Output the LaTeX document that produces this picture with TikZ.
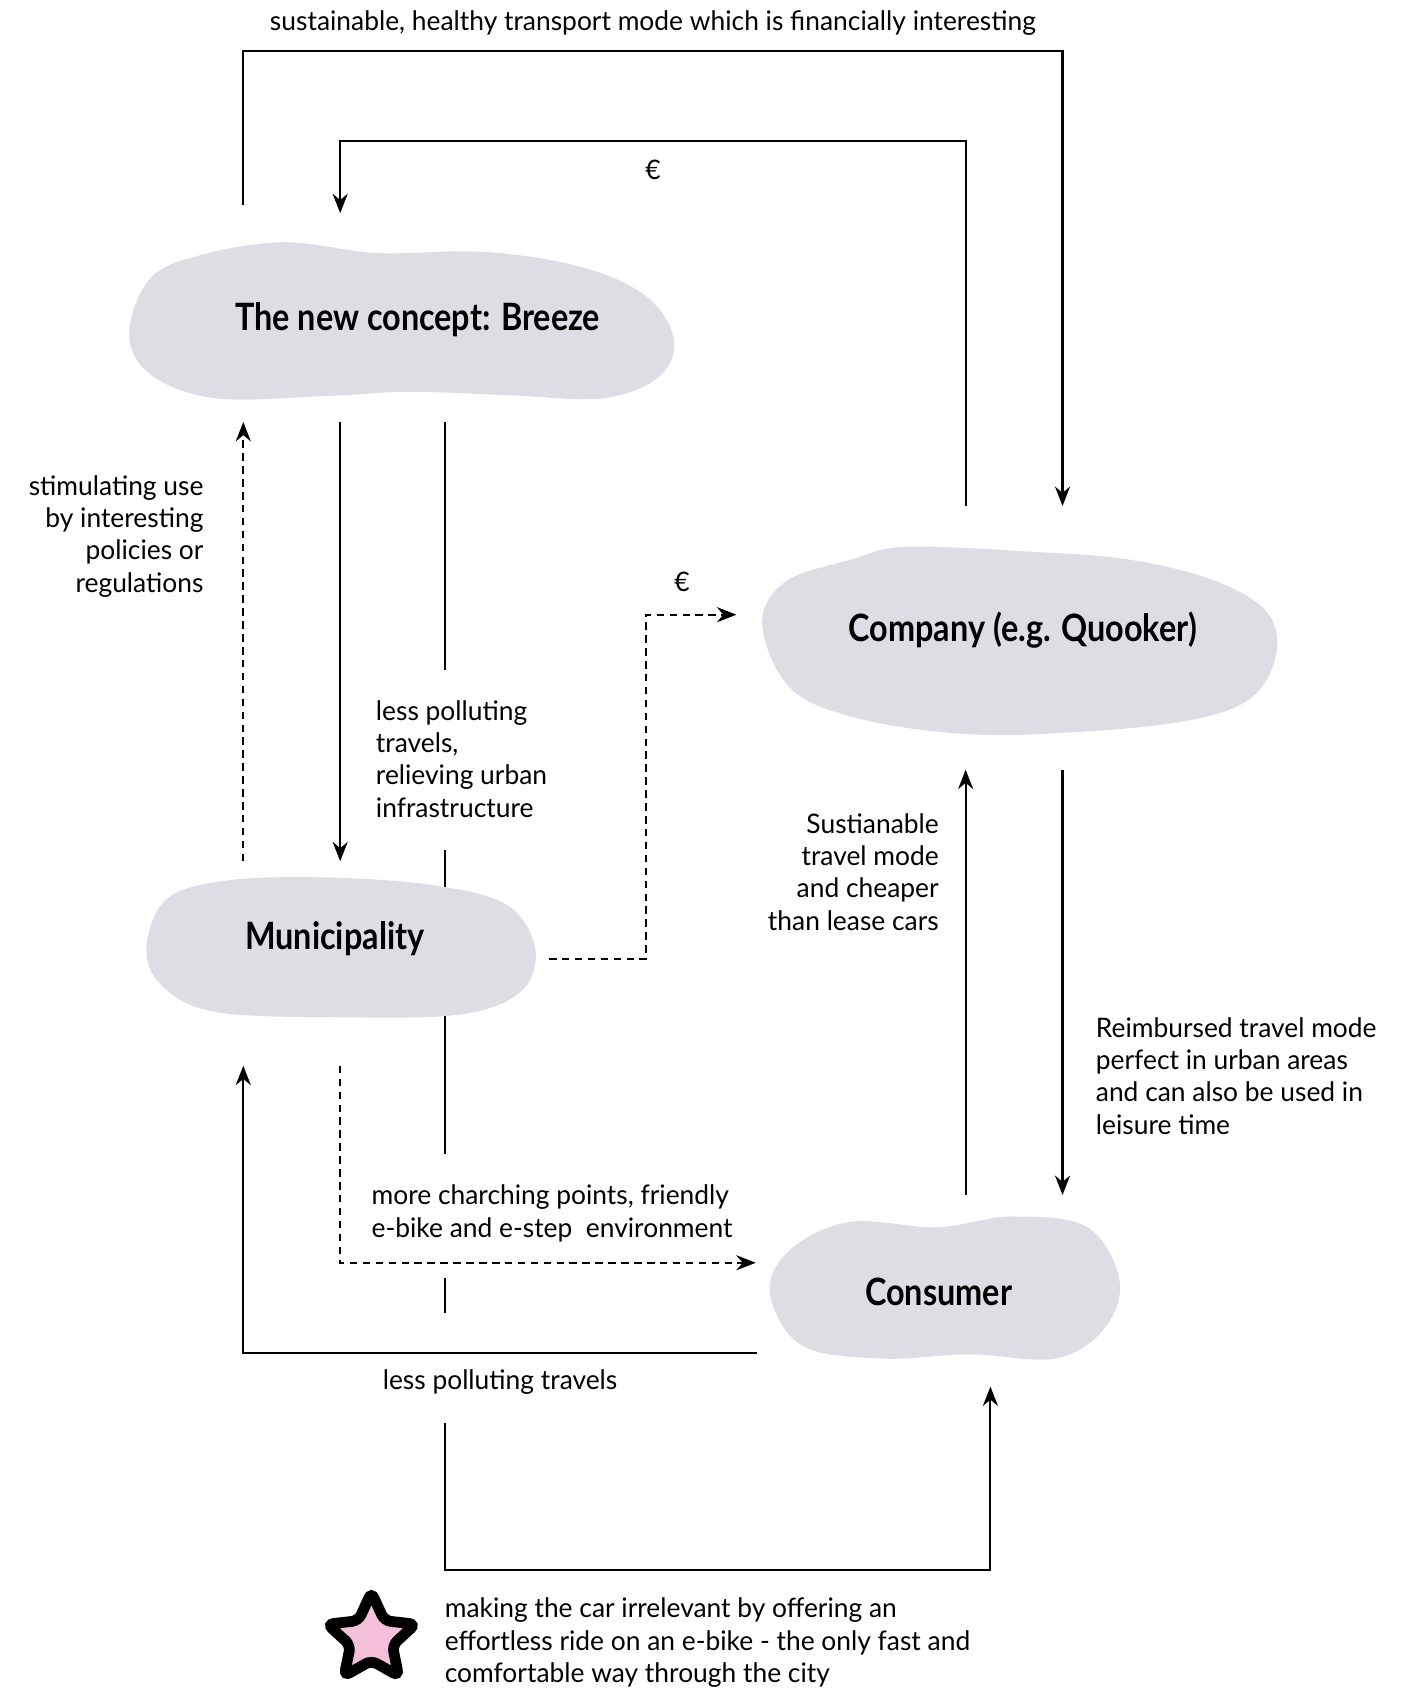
\documentclass[tikz,border=0pt]{standalone}
\usepackage{fontspec}
\setmainfont[FakeStretch=0.98, BoldFeatures={FakeStretch=0.86}]{Lato}
\usepackage{tikz}
\usetikzlibrary{arrows.meta,%
                shapes.geometric,positioning}
\definecolor{cloudgray}{RGB}{222,221,228}
\definecolor{starpink}{RGB}{243,191,217}
\pgfdeclarelayer{lines}
\pgfdeclarelayer{clouds}
\pgfsetlayers{lines,clouds,main}

\begin{document}
\begin{tikzpicture}[x = 1pt, y = -1pt]
  \useasboundingbox (0,0) rectangle (1310,1568);
  \tikzset{CloudStyle/.style = {inner sep      = 0pt,
                                text           = black,
                                font           = \fontsize{35}{40}\selectfont\bfseries}}
  \tikzset{LabelStyle/.style = {inner sep      = 0pt,
                                text           = black,
                                font           = \fontsize{25}{30}\selectfont}}
  \tikzset{FlowStyle/.style  = {line width     = 2pt,
                                -{Stealth[length = 18pt, width = 14pt]}}}
  \tikzset{DashStyle/.style  = {FlowStyle,
                                dash pattern   = on 7pt off 5pt}}
  \tikzset{StarStyle/.style  = {star, star points = 5,
                                star point ratio  = 2.1,
                                minimum size      = 86pt,
                                rounded corners   = 6pt,
                                draw              = black,
                                line width        = 10pt,
                                fill              = starpink}}
  % the four actors
  \node[CloudStyle] (breeze)       at (388,297)  {The new concept: Breeze};
  \node[CloudStyle] (company)      at (950,585)  {Company (e.g. Quooker)};
  \node[CloudStyle] (municipality) at (311,872)  {Municipality};
  \node[CloudStyle] (consumer)     at (872,1200) {Consumer};
  % legend
  \node[StarStyle]  (star)         at (345,1522) {};
  \node[LabelStyle, anchor = west, align = left] (starnote) at (413,1526)
       {making the car irrelevant by offering an\\
        effortless ride on an e-bike - the only fast and\\
        comfortable way through the city};

  \begin{pgfonlayer}{lines}
    \draw[FlowStyle] ([shift={(-162,-107)}]breeze.center) -- ++(0,-143)
         -| node[LabelStyle, pos = 0.25, above = 13pt]
            {sustainable, healthy transport mode which is financially interesting}
         ([shift={(37,-115)}]company.center);
    \draw[FlowStyle] ([shift={(-53,-115)}]company.center) -- ++(0,-339)
         -| node[LabelStyle, pos = 0.25, below = 17pt]{€}
         ([shift={(-72,-99)}]breeze.center);
    \draw[DashStyle] ([shift={(-85,-72)}]municipality.center)
         -- node[LabelStyle, pos = 0.74, left = 36pt, align = right]
            {stimulating use\\by interesting\\policies or\\regulations}
         ([shift={(-162,95)}]breeze.center);
    \draw[FlowStyle] ([shift={(-72,95)}]breeze.center)
         -- ([shift={(5,-72)}]municipality.center);
    \draw[FlowStyle, dash pattern = on 230pt off 168pt on 282pt off 115pt
                                    on 33pt off 102pt on 2000pt]
         ([shift={(25,95)}]breeze.center) -- ++(0,1066)
         -| ([shift={(48,88)}]consumer.center);
    \node[LabelStyle, anchor = west, align = left] (pollution) at (349,705)
         {less polluting\\travels,\\relieving urban\\infrastructure};
    \draw[DashStyle] ([shift={(199,19)}]municipality.center) -- ++(90,0)
         |- node[LabelStyle, pos = 0.7, above = 20pt]{€}
         ([shift={(-266,-14)}]company.center);
    \draw[FlowStyle] ([shift={(37,130)}]company.center)
         -- node[LabelStyle, pos = 0.72, right = 30pt, align = left]
            {Reimbursed travel mode\\perfect in urban areas\\and can also be used in\\leisure time}
         ([shift={(115,-90)}]consumer.center);
    \draw[FlowStyle] ([shift={(25,-90)}]consumer.center)
         -- node[LabelStyle, pos = 0.76, left = 24pt, align = right]
            {Sustianable\\travel mode\\and cheaper\\than lease cars}
         ([shift={(-53,130)}]company.center);
    \draw[DashStyle] ([shift={(5,118)}]municipality.center)
         |- ([shift={(-170,-27)}]consumer.center);
    \node[LabelStyle, anchor = west, align = left] (charging) at (345,1127)
         {more charching points, friendly\\e-bike and e-step\ \ environment};
    \draw[FlowStyle] ([shift={(-169,57)}]consumer.center)
         -| node[LabelStyle, pos = 0.25, below = 14pt]{less polluting travels}
         ([shift={(-85,118)}]municipality.center);
  \end{pgfonlayer}

  \begin{pgfonlayer}{clouds}
    \fill[cloudgray] plot[smooth cycle, tension = 0.6] coordinates
         {(120,310) (140,258) (190,236) (265,225) (350,235) (450,234) (540,248)
          (600,275) (626,315) (612,350) (560,370) (470,367) (380,364) (300,368)
          (200,370) (140,348)};
    \fill[cloudgray] plot[smooth cycle, tension = 0.6] coordinates
         {(708,580) (730,540) (790,520) (840,508) (950,512) (1050,520) (1130,540)
          (1178,570) (1185,610) (1160,650) (1100,670) (1000,680) (900,682)
          (800,668) (735,640)};
    \fill[cloudgray] plot[smooth cycle, tension = 0.6] coordinates
         {(136,880) (155,835) (210,818) (300,815) (400,822) (470,840) (497,880)
          (485,920) (430,942) (320,945) (200,940) (150,915)};
    \fill[cloudgray] plot[smooth cycle, tension = 0.6] coordinates
         {(715,1200) (735,1160) (790,1135) (870,1140) (940,1130) (1010,1140)
          (1040,1190) (1025,1235) (980,1262) (900,1258) (820,1262) (745,1250)};
  \end{pgfonlayer}
\end{tikzpicture}
\end{document}
